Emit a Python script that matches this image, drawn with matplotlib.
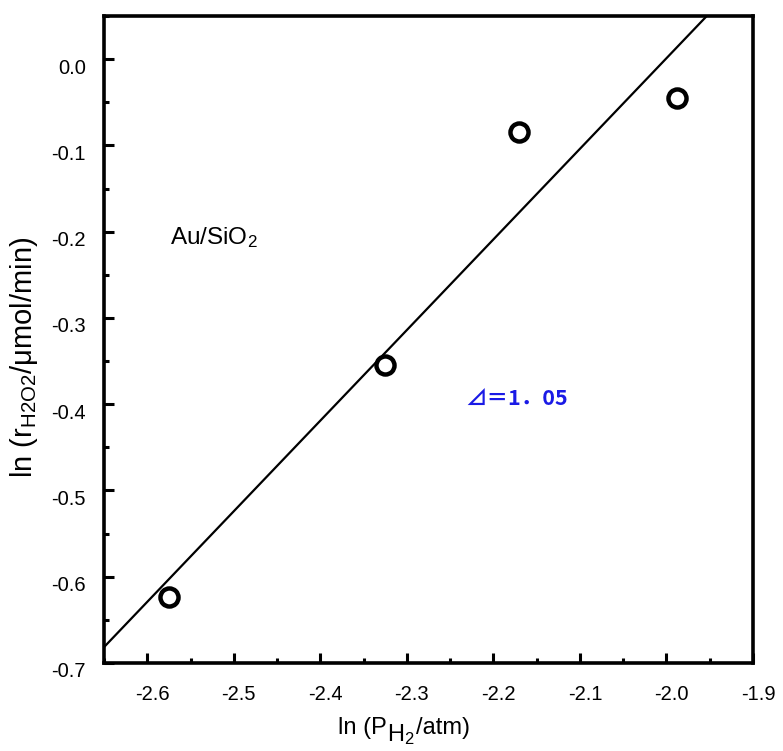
import numpy as np
import matplotlib.pyplot as plt
from matplotlib.ticker import MultipleLocator, FormatStrFormatter
from matplotlib.transforms import ScaledTranslation

plt.rcParams['font.family'] = ['Liberation Sans', 'DejaVu Sans']
plt.rcParams['mathtext.fontset'] = 'custom'
plt.rcParams['mathtext.rm'] = 'Liberation Sans'
plt.rcParams['mathtext.it'] = 'Liberation Sans'
plt.rcParams['axes.unicode_minus'] = False

# ln P(H2) vs ln rate, Au/SiO2
ln_p_h2 = [-2.575, -2.325, -2.170, -1.988]
ln_rate = [-0.624, -0.354, -0.084, -0.045]
x_ticks = [-2.6, -2.5, -2.4, -2.3, -2.2, -2.1, -2.0, -1.9]
y_ticks = [0.0, -0.1, -0.2, -0.3, -0.4, -0.5, -0.6, -0.7]

fig = plt.figure(figsize=(7.83, 7.51), dpi=100)
ax = fig.add_axes([0.1328, 0.1172, 0.8289, 0.8615])

# least-squares line, slope ~1.05
k, b = np.polyfit(ln_p_h2, ln_rate, 1)
xl = np.array([-2.65, -1.9])
ax.plot(xl, k * xl + b, color='black', lw=1.6, zorder=2)

ax.plot(ln_p_h2, ln_rate, 'o', ms=13, mfc='white', mec='black', mew=3.2,
        zorder=3)

ax.set_xlim(-2.65, -1.9)
ax.set_ylim(-0.7, 0.05)
ax.set_xticks(x_ticks)
ax.set_yticks(y_ticks)
ax.xaxis.set_major_formatter(FormatStrFormatter('%.1f'))
ax.yaxis.set_major_formatter(FormatStrFormatter('%.1f'))
ax.xaxis.set_minor_locator(MultipleLocator(0.05))
ax.yaxis.set_minor_locator(MultipleLocator(0.05))
ax.tick_params(which='both', direction='in', top=False, right=False,
               width=2.2, labelsize=14.5)
ax.tick_params(axis='x', which='major', length=7.5, pad=16)
ax.tick_params(axis='y', which='major', length=7.5, pad=13)
ax.tick_params(which='minor', length=3.5)
for s in ax.spines.values():
    s.set_linewidth(2.6)

# tick labels sit a little right / below their ticks
for lab in ax.get_xticklabels():
    lab.set_transform(lab.get_transform() +
                      ScaledTranslation(0.05, 0, fig.dpi_scale_trans))
for lab in ax.get_yticklabels():
    lab.set_transform(lab.get_transform() +
                      ScaledTranslation(0, -0.07, fig.dpi_scale_trans))

# x label built in pieces so the H subscript stays full size
t1 = ax.text(0.3605, -0.1097, 'ln (P', transform=ax.transAxes,
             fontsize=17, va='baseline', ha='left')
t2 = ax.annotate('H$_2$', xy=(1, 0), xycoords=t1, xytext=(0.5, -1.5),
                 textcoords='offset points', fontsize=17, va='baseline',
                 ha='left', annotation_clip=False)
ax.annotate('/atm)', xy=(1, 0), xycoords=(t2, t1), xytext=(0.5, 0),
            textcoords='offset points', fontsize=17,
            va='bottom', ha='left', annotation_clip=False)

ax.set_ylabel(r'ln (r$_{\mathrm{H2O2}}$/μmol/min)', fontsize=21)
ax.yaxis.set_label_coords(-0.0986, 0.472)

ax.text(-2.5737, -0.2147, r'Au/SiO$_2$', fontsize=17.5, va='baseline')
ax.text(-2.2327, -0.3928, '⊿＝1．05', fontsize=15.5, color='#1a1ae6',
        fontweight='bold', va='center', ha='left',
        family=['Noto Sans CJK JP', 'DejaVu Sans'])

fig.savefig('out.png', dpi=100)
